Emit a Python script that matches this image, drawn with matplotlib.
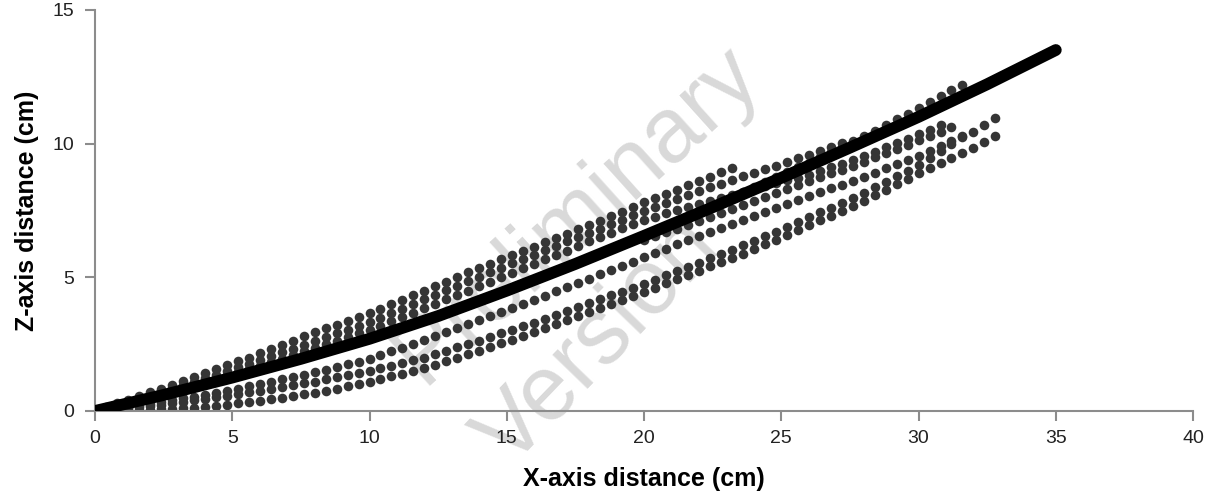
import matplotlib
matplotlib.use("Agg")
import matplotlib.pyplot as plt

# sample positions along x (cm) shared by the dotted trajectories
x_grid = [0.0, 0.4, 0.8, 1.2, 1.6, 2.0, 2.4, 2.8, 3.2, 3.6,
          4.0, 4.4, 4.8, 5.2, 5.6, 6.0, 6.4, 6.8, 7.2, 7.6,
          8.0, 8.4, 8.8, 9.2, 9.6, 10.0, 10.4, 10.8, 11.2, 11.6,
          12.0, 12.4, 12.8, 13.2, 13.6, 14.0, 14.4, 14.8, 15.2, 15.6,
          16.0, 16.4, 16.8, 17.2, 17.6, 18.0, 18.4, 18.8, 19.2, 19.6,
          20.0, 20.4, 20.8, 21.2, 21.6, 22.0, 22.4, 22.8, 23.2, 23.6,
          24.0, 24.4, 24.8, 25.2, 25.6, 26.0, 26.4, 26.8, 27.2, 27.6,
          28.0, 28.4, 28.8, 29.2, 29.6, 30.0, 30.4, 30.8, 31.2, 31.6,
          32.0, 32.4, 32.8]

# upper bundle (above the fitted curve)
u1_start = 0.0
u1_z = [0, 0.14, 0.28, 0.42, 0.56, 0.7, 0.84, 0.99, 1.13, 1.28,
        1.42, 1.57, 1.71, 1.86, 2.0, 2.15, 2.31, 2.47, 2.63, 2.79,
        2.95, 3.09, 3.23, 3.37, 3.51, 3.65, 3.82, 3.99, 4.16, 4.33,
        4.5, 4.67, 4.84, 5.01, 5.18, 5.35, 5.51, 5.67, 5.83, 5.99,
        6.15, 6.31, 6.47, 6.63, 6.79, 6.95, 7.12, 7.29, 7.46, 7.63,
        7.8, 7.96, 8.12, 8.28, 8.44, 8.6, 8.76, 8.92, 9.08]

u2_start = 0.0
u2_z = [0, 0.12, 0.24, 0.36, 0.48, 0.6, 0.73, 0.85, 0.98, 1.1,
        1.23, 1.36, 1.5, 1.63, 1.77, 1.9, 2.04, 2.19, 2.33, 2.48,
        2.62, 2.76, 2.9, 3.04, 3.18, 3.32, 3.49, 3.66, 3.83, 4.0,
        4.17, 4.34, 4.51, 4.68, 4.85, 5.02, 5.19, 5.35, 5.52, 5.68,
        5.85, 6.01, 6.17, 6.34, 6.5, 6.66, 6.82, 6.99, 7.15, 7.32,
        7.48, 7.63, 7.78, 7.92, 8.07, 8.22, 8.36, 8.5, 8.63, 8.77,
        8.91, 9.05, 9.18, 9.32, 9.45, 9.59, 9.73, 9.88, 10.02]

u3_start = 0.0
u3_z = [0, 0.11, 0.21, 0.32, 0.42, 0.53, 0.64, 0.75, 0.86, 0.97,
        1.08, 1.2, 1.33, 1.45, 1.58, 1.7, 1.83, 1.96, 2.1, 2.23,
        2.36, 2.49, 2.63, 2.76, 2.9, 3.03, 3.19, 3.35, 3.52, 3.68,
        3.84, 4.01, 4.17, 4.34, 4.5, 4.67, 4.84, 5.0, 5.17, 5.33,
        5.5, 5.67, 5.84, 6.0, 6.17, 6.34, 6.5, 6.66, 6.83, 6.99,
        7.15, 7.27, 7.39, 7.5, 7.62, 7.74, 7.85, 7.97, 8.08, 8.2,
        8.31, 8.42, 8.52, 8.63, 8.73, 8.84, 8.98, 9.12, 9.25, 9.39,
        9.53, 9.69, 9.86, 10.02, 10.19, 10.35, 10.52, 10.68]

# trajectory hugging the curve at the far end
t4_start = 22.0
t4_z = [7.49, 7.67, 7.85, 8.02, 8.2, 8.38, 8.56, 8.74, 8.93, 9.11,
        9.29, 9.49, 9.69, 9.88, 10.08, 10.28, 10.49, 10.7, 10.91, 11.12,
        11.33, 11.55, 11.77, 11.99, 12.21]

t5_start = 20.0
t5_z = [6.38, 6.53, 6.68, 6.82, 6.97, 7.12, 7.27, 7.42, 7.56, 7.71,
        7.86, 8.01, 8.15, 8.3, 8.44, 8.59, 8.74, 8.89, 9.03, 9.18,
        9.33, 9.49, 9.65, 9.8, 9.96, 10.12, 10.29, 10.45, 10.62]

# single middle trajectory
m_start = 0.0
m_z = [0, 0.05, 0.11, 0.16, 0.22, 0.27, 0.34, 0.4, 0.47, 0.53,
       0.6, 0.68, 0.76, 0.84, 0.92, 1.0, 1.09, 1.18, 1.27, 1.36,
       1.45, 1.55, 1.65, 1.75, 1.85, 1.95, 2.09, 2.23, 2.37, 2.51,
       2.65, 2.8, 2.95, 3.1, 3.25, 3.4, 3.55, 3.7, 3.85, 4.0,
       4.15, 4.31, 4.47, 4.63, 4.79, 4.95, 5.11, 5.27, 5.43, 5.59,
       5.75, 5.91, 6.07, 6.23, 6.39, 6.55, 6.7, 6.85, 7.0, 7.15,
       7.3, 7.45, 7.6, 7.75, 7.9, 8.05, 8.19, 8.33, 8.47, 8.61,
       8.75, 8.91, 9.07, 9.23, 9.39, 9.55, 9.73, 9.91, 10.09, 10.27,
       10.45, 10.7, 10.95]

# lower bundle
l1_start = 0.0
l1_z = [0, 0.04, 0.08, 0.11, 0.15, 0.19, 0.24, 0.29, 0.35, 0.4,
        0.45, 0.51, 0.57, 0.64, 0.7, 0.76, 0.83, 0.9, 0.96, 1.03,
        1.1, 1.18, 1.26, 1.34, 1.42, 1.5, 1.6, 1.7, 1.8, 1.9,
        2.0, 2.13, 2.25, 2.38, 2.5, 2.63, 2.76, 2.9, 3.03, 3.17,
        3.3, 3.45, 3.59, 3.74, 3.88, 4.03, 4.17, 4.32, 4.46, 4.61,
        4.75, 4.91, 5.07, 5.23, 5.39, 5.55, 5.71, 5.87, 6.03, 6.19,
        6.35, 6.53, 6.71, 6.89, 7.07, 7.25, 7.43, 7.61, 7.79, 7.97,
        8.15, 8.36, 8.57, 8.78, 8.99, 9.2, 9.47, 9.73, 10.0, 10.26]

l3_start = 0.0
l3_z = [0, 0.01, 0.02, 0.02, 0.03, 0.04, 0.06, 0.08, 0.11, 0.13,
        0.15, 0.2, 0.24, 0.29, 0.33, 0.38, 0.44, 0.5, 0.56, 0.62,
        0.68, 0.76, 0.84, 0.92, 1.0, 1.08, 1.18, 1.29, 1.39, 1.5,
        1.6, 1.73, 1.86, 1.99, 2.12, 2.25, 2.39, 2.53, 2.67, 2.81,
        2.95, 3.1, 3.25, 3.4, 3.55, 3.7, 3.85, 4.0, 4.15, 4.3,
        4.45, 4.61, 4.77, 4.93, 5.09, 5.25, 5.41, 5.57, 5.73, 5.89,
        6.05, 6.23, 6.41, 6.59, 6.77, 6.95, 7.13, 7.31, 7.49, 7.67,
        7.85, 8.06, 8.27, 8.48, 8.69, 8.9, 9.09, 9.28, 9.47, 9.66,
        9.85, 10.07, 10.3]

# thick fitted curve
fit_x = [0, 2.5, 5, 7.5, 10, 12.5, 15, 17.5, 20, 22.5, 25, 27.5, 30, 32.5, 35]
fit_z = [0, 0.6, 1.25, 1.95, 2.7, 3.55, 4.5, 5.5, 6.55, 7.62, 8.72, 9.85, 11.0, 12.22, 13.5]

x_ticks = [0, 5, 10, 15, 20, 25, 30, 35, 40]
z_ticks = [0, 5, 10, 15]

plt.rcParams['font.family'] = ['Liberation Sans', 'DejaVu Sans']

fig = plt.figure(figsize=(12.1, 4.96), dpi=100)
ax = fig.add_axes([0.0785, 0.1714, 0.9075, 0.8086])

trajectories = [(u1_start, u1_z), (u2_start, u2_z), (u3_start, u3_z),
                (t4_start, t4_z), (t5_start, t5_z), (m_start, m_z),
                (l1_start, l1_z), (l3_start, l3_z)]
for start, zs in trajectories:
    i0 = x_grid.index(start)
    xs = x_grid[i0:i0 + len(zs)]
    ax.scatter(xs, zs, s=48, color='#353535', linewidths=0, zorder=2)

ax.plot(fit_x, fit_z, color='black', lw=8.5, solid_capstyle='round',
        solid_joinstyle='round', zorder=3)

# watermark
ax.text(0.477, 0.566, 'Preliminary', transform=fig.transFigure, rotation=42,
        ha='center', va='center', fontsize=66, color='#d9d9d9', zorder=1)
ax.text(0.495, 0.31, 'Version', transform=fig.transFigure, rotation=46,
        ha='center', va='center', fontsize=66, color='#d9d9d9', zorder=1)

ax.set_xlim(0, 40)
ax.set_ylim(0, 15)
ax.set_xticks(x_ticks)
ax.set_yticks(z_ticks)
for side in ['top', 'right']:
    ax.spines[side].set_visible(False)
for side in ['left', 'bottom']:
    ax.spines[side].set_color('#8c8c8c')
    ax.spines[side].set_linewidth(1.5)
ax.tick_params(axis='both', colors='#8c8c8c', width=1.5, length=7,
               labelsize=14, labelcolor='#222222')
ax.tick_params(axis='x', pad=7)
ax.tick_params(axis='y', pad=8)

ax.set_xlabel('X-axis distance (cm)', fontsize=18, fontweight='bold', labelpad=14)
ax.set_ylabel('Z-axis distance (cm)', fontsize=18, fontweight='bold', labelpad=10)

fig.savefig('out.png', dpi=100)
